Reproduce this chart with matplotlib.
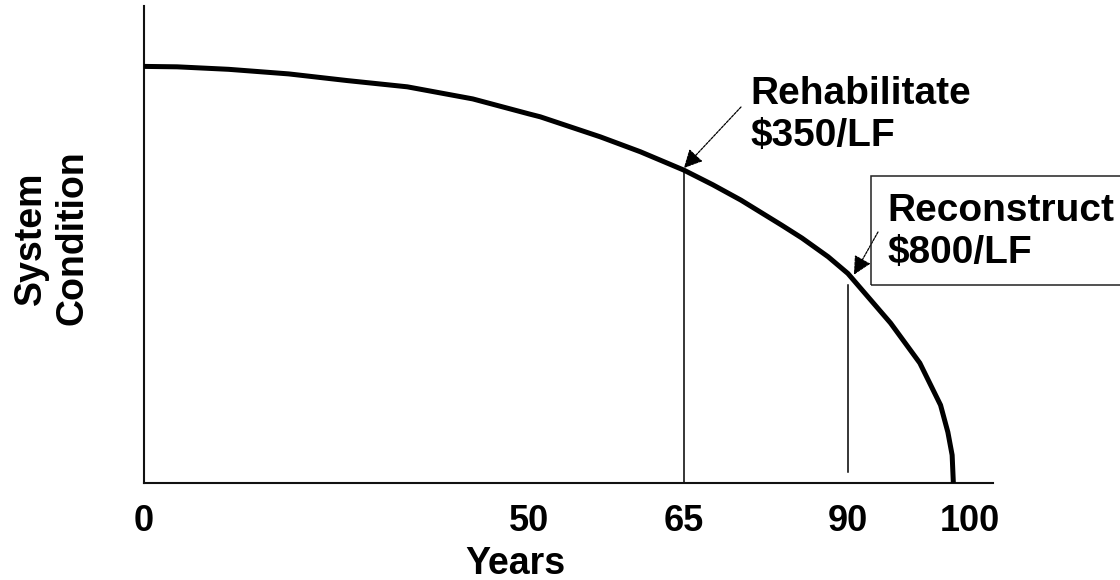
import numpy as np
import matplotlib
matplotlib.use("Agg")
import matplotlib.pyplot as plt
from matplotlib.patches import Rectangle

# Deterioration curve: system condition (0-100) against age in years
years = [0, 4.3, 11.0, 18.8, 26.4, 34.2, 42.7, 50.0, 51.1, 56.9, 60.8, 65,
         69.4, 73.7, 79.9, 83.0, 87.0, 90.0, 93.5, 95.9, 97.6, 98.2,
         98.55, 98.65]
condition = [100, 99.9, 99.3, 98.2, 96.6, 95.1, 92.2, 88.6, 87.9, 83.1, 79.5,
             75.1, 71.6, 67.9, 61.9, 58.8, 54.3, 50.3, 38.4, 28.8, 18.7,
             12.2, 6.7, 0]

# Treatment points on the curve
rehab_year, rehab_cond = 65, 75.1
recon_year, recon_cond = 90.5, 50.0
recon_line_year, recon_line_top, recon_line_bottom = 90, 47.5, 2.6

tick_years = [0, 50, 65, 90, 100]
tick_labels = ["0", "50", "65", "90", "100"]

rehab_text = "Rehabilitate\n$350/LF"
recon_text = "Reconstruct\n$800/LF"

# Schematic (non-uniform) year axis: piecewise-linear spacing between labels
knot_years = np.array([-10, 0, 50, 65, 90, 100, 110], dtype=float)
knot_pos = np.array([67, 144, 529, 684, 848, 970, 1092], dtype=float)


def fwd(x):
    return np.interp(x, knot_years, knot_pos)


def inv(p):
    return np.interp(p, knot_pos, knot_years)


W, H = 1120, 580
fig = plt.figure(figsize=(W / 100, H / 100), dpi=100)
ax = fig.add_axes([144 / W, 1 - 483 / H, (993 - 144) / W, (483 - 6) / H])
ax.set_xscale("function", functions=(fwd, inv))
ax.set_xlim(0, 101.9)
ax.set_ylim(0, 114.5)

font = "Liberation Sans"

ax.plot(years, condition, color="black", lw=3.6, solid_joinstyle="round",
        solid_capstyle="butt", clip_on=False, zorder=3)

# Vertical markers at the treatment years
ax.plot([rehab_year, rehab_year], [0, rehab_cond], color="black", lw=1.1)
ax.plot([recon_line_year, recon_line_year], [recon_line_bottom, recon_line_top],
        color="black", lw=1.1)

for s in ("top", "right"):
    ax.spines[s].set_visible(False)
for s in ("left", "bottom"):
    ax.spines[s].set_linewidth(1.5)
    ax.spines[s].set_color("#111111")

ax.set_xticks(tick_years)
ax.set_xticklabels(tick_labels)
ax.set_yticks([])
ax.tick_params(axis="x", length=0, pad=15)
for lbl in ax.get_xticklabels():
    lbl.set_fontfamily(font)
    lbl.set_fontweight("bold")
    lbl.set_fontsize(26)
ax.minorticks_off()

fig.text(515 / W, 1 - 546 / H, "Years", ha="center", va="top",
         fontfamily=font, fontweight="bold", fontsize=27)
fig.text(52 / W, 1 - 238 / H, "System\nCondition", rotation=90,
         ha="center", va="center", multialignment="center",
         fontfamily=font, fontweight="bold", fontsize=27)

# Annotation texts
fig.text(750 / W, 1 - 76 / H, rehab_text, ha="left", va="top",
         fontfamily=font, fontweight="bold", fontsize=28, parse_math=False)
fig.text(887 / W, 1 - 193 / H, recon_text, ha="left", va="top",
         fontfamily=font, fontweight="bold", fontsize=28, parse_math=False)
fig.add_artist(Rectangle((871 / W, 1 - 285 / H), (1130 - 871) / W, 109 / H,
                         transform=fig.transFigure, fill=False,
                         edgecolor="#222222", lw=1.1))

arrow_kw = dict(arrowstyle="-|>,head_length=0.8,head_width=0.4",
                color="black", lw=0.9, linestyle=(0, (2.0, 1.0)),
                shrinkA=0, shrinkB=0, mutation_scale=14)
ax.annotate("", xy=(rehab_year, rehab_cond + 0.5), xycoords="data",
            xytext=(741 / W, 1 - 107 / H), textcoords="figure fraction",
            arrowprops=arrow_kw, annotation_clip=False)
ax.annotate("", xy=(recon_year, recon_cond), xycoords="data",
            xytext=(878 / W, 1 - 232 / H), textcoords="figure fraction",
            arrowprops=arrow_kw, annotation_clip=False)

fig.savefig("out.png", dpi=100)
